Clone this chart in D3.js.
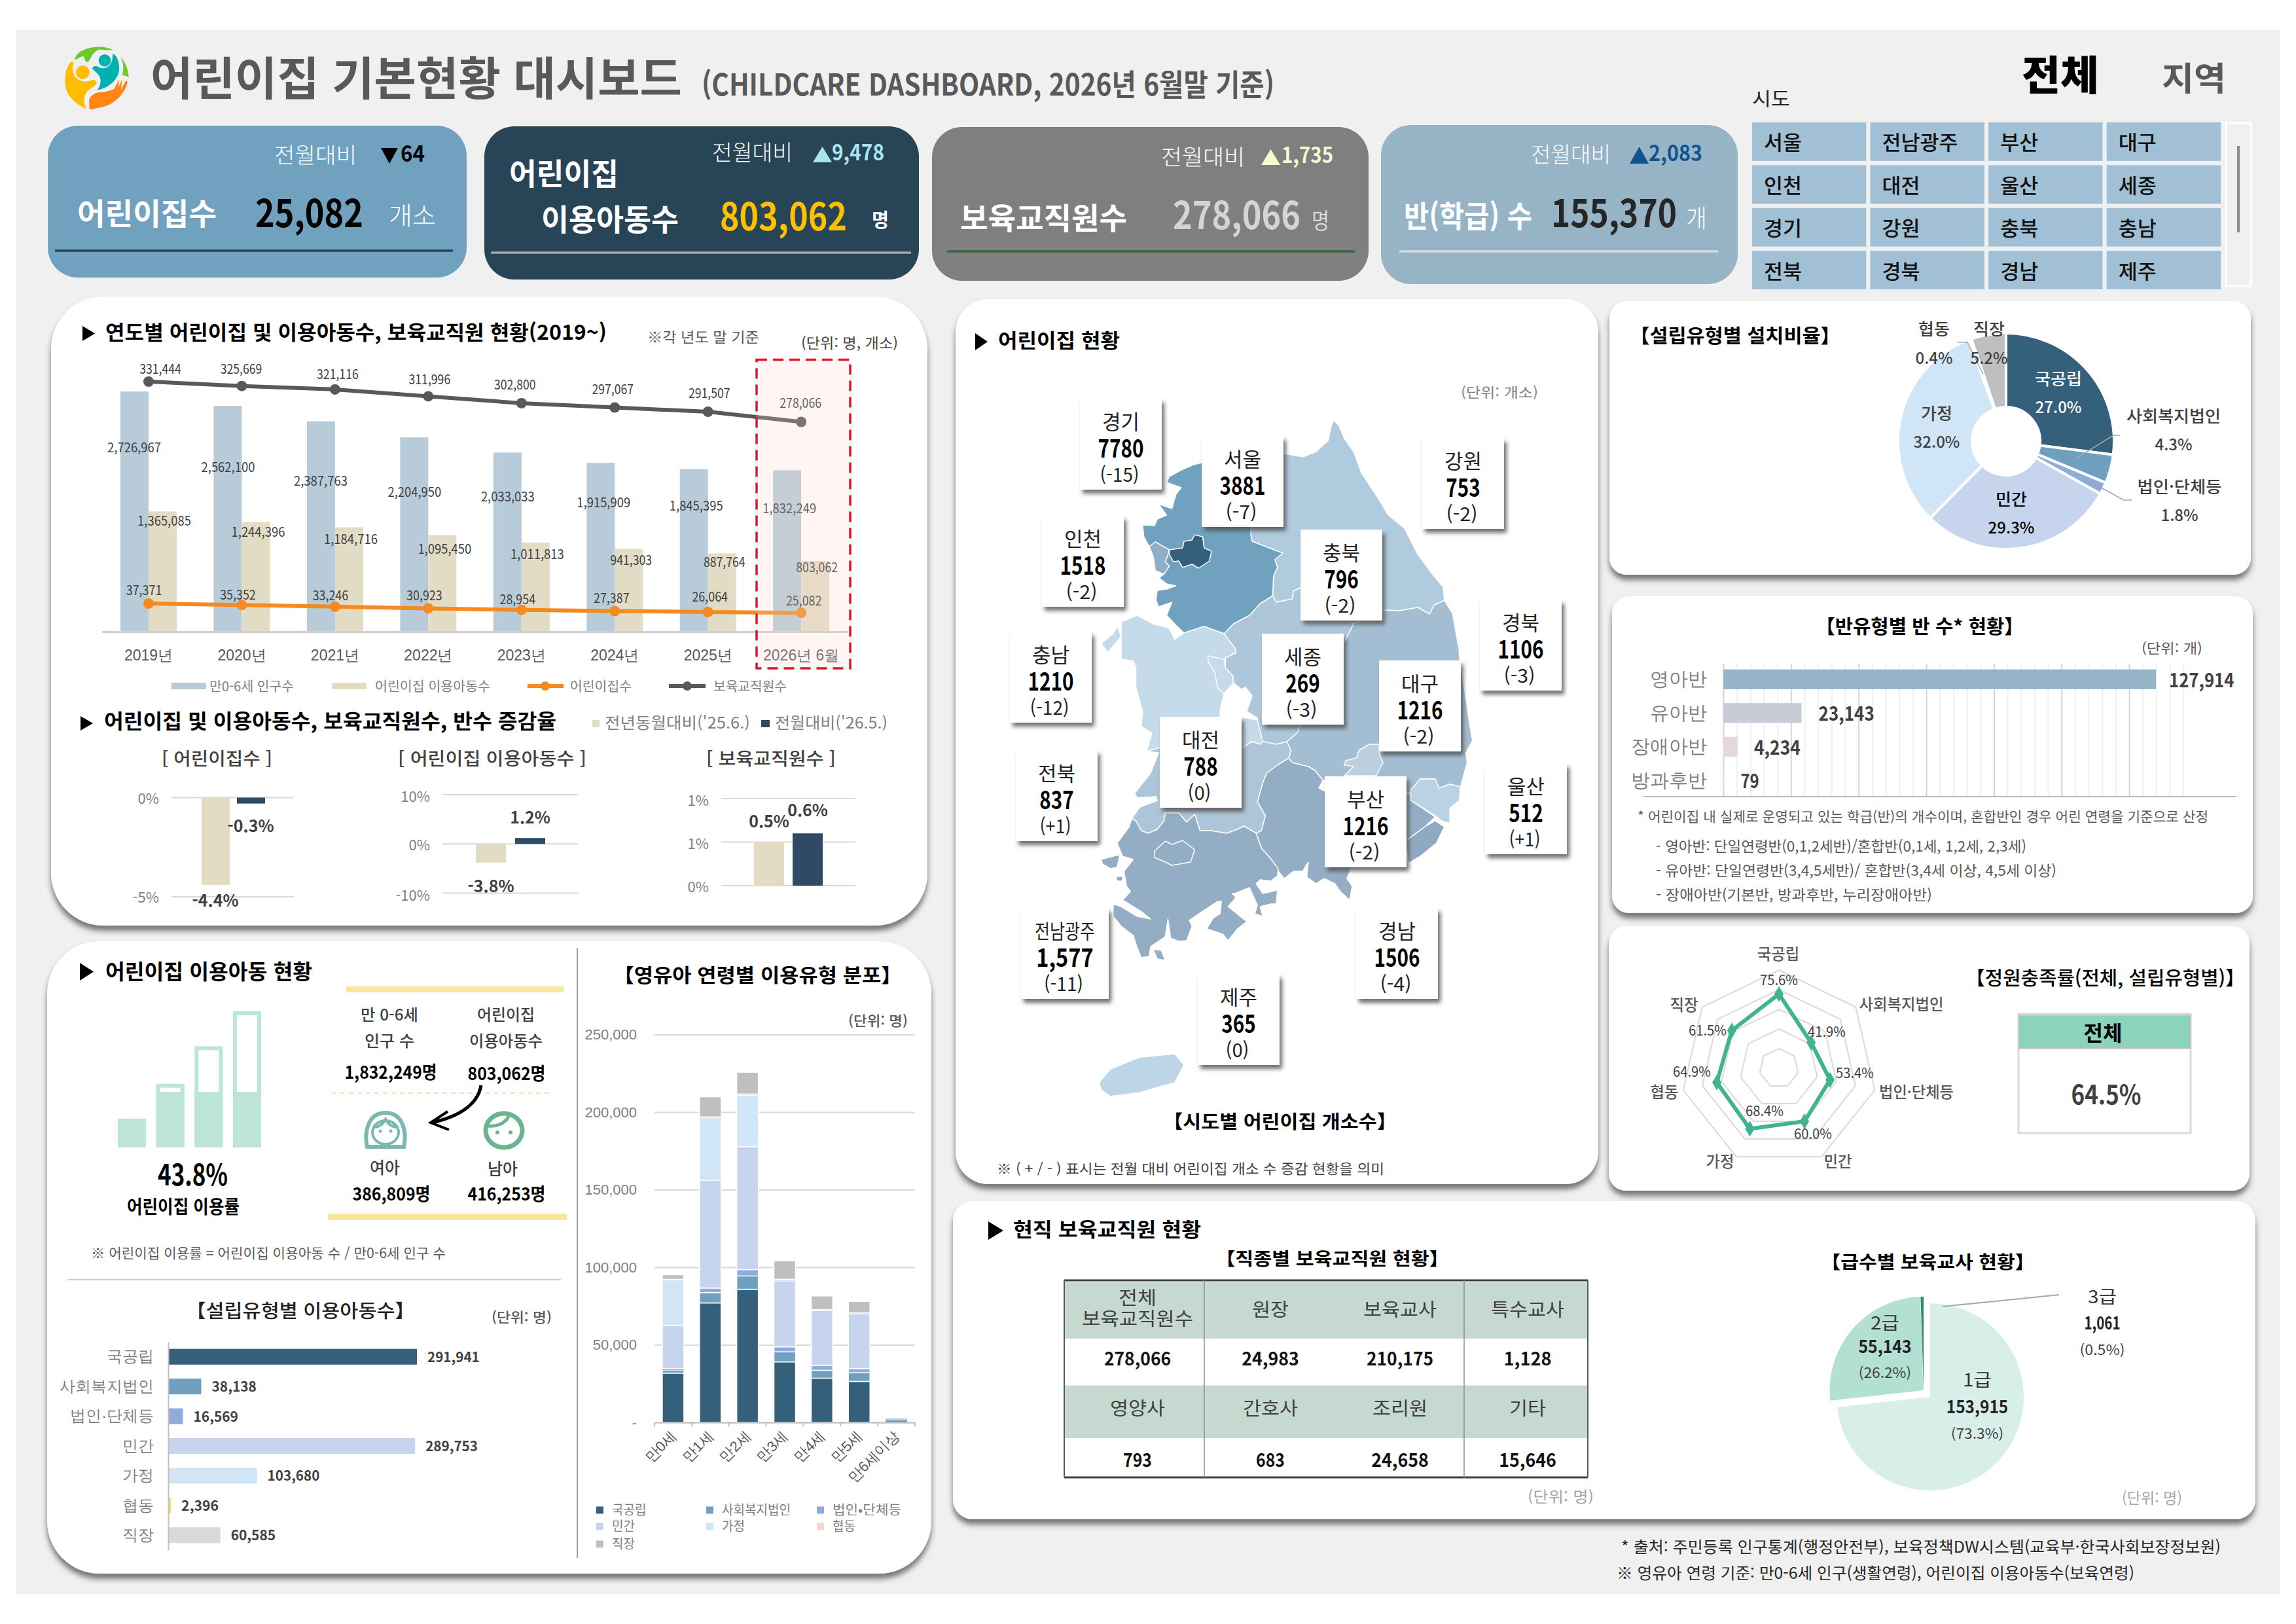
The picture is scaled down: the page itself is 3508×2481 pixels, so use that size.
<!DOCTYPE html>
<html lang="ko"><head><meta charset="utf-8">
<script src="https://cdn.jsdelivr.net/npm/d3@7"></script>
<style>html,body{margin:0;background:#fff}svg{display:block;font-family:"Noto Sans CJK KR","Noto Sans",sans-serif}</style>
</head><body><script>
// ---------- data ----------
const years=['2019년','2020년','2021년','2022년','2023년','2024년','2025년','2026년 6월'];
const popValues=[2726967,2562100,2387763,2204950,2033033,1915909,1845395,1832249];
const childValues=[1365085,1244396,1184716,1095450,1011813,941303,887764,803062];
const centerValues=[37371,35352,33246,30923,28954,27387,26064,25082];
const teacherValues=[331444,325669,321116,311996,302800,297067,291507,278066];
const typeNames=['국공립','사회복지법인','법인·단체등','민간','가정','협동','직장'];
const typeChildren=[291941,38138,16569,289753,103680,2396,60585];
const typeShare=[27.0,4.3,1.8,29.3,32.0,0.4,5.2];
const fillRates=[75.6,41.9,53.4,60.0,68.4,64.9,61.5];
const ageLabels=['만0세','만1세','만2세','만3세','만4세','만5세','만6세이상'];
const ageNational=[31750,77000,85800,39000,28500,26400,200];
const ageWelfare=[1900,6700,8600,6500,5100,5600,1300];
const ageCorp=[1000,2900,4100,3200,3000,2700,100];
const agePrivate=[28000,69400,79300,42500,35500,35200,800];
const ageHome=[29300,40400,33100,500,300,300,50];
const ageCoop=[200,500,800,500,300,400,20];
const ageWork=[3000,13000,14000,12000,8800,7400,300];
const classNames=['영아반','유아반','장애아반','방과후반'];
const classValues=[127914,23143,4234,79];
const gradeNames=['1급','2급','3급'];
const gradeValues=[153915,55143,1061];
const gradeShare=[73.3,26.2,0.5];
const yoyCenter=[-4.4,-0.3], yoyChild=[-3.8,1.2], yoyStaff=[0.5,0.6];
const sidoGrid=['서울','전남광주','부산','대구','인천','대전','울산','세종','경기','강원','충북','충남','전북','경북','경남','제주'];
const mapNames=['경기','서울','강원','인천','충북','경북','충남','세종','대구','대전','전북','울산','부산','전남광주','경남','제주'];
const mapCounts=['7780','3881','753','1518','796','1106','1210','269','1216','788','837','512','1216','1,577','1506','365'];
const mapDeltas=['(-15)','(-7)','(-2)','(-2)','(-2)','(-3)','(-12)','(-3)','(-2)','(0)','(+1)','(+1)','(-2)','(-11)','(-4)','(0)'];
const staffNames1=['전체\n보육교직원수','원장','보육교사','특수교사'];
const staffValues1=[278066,24983,210175,1128];
const staffNames2=['영양사','간호사','조리원','기타'];
const staffValues2=[793,683,24658,15646];
// map outlines (map units: x 0-1568, y 620-1700)
const mapGangwon=[[[925,642],[945,650],[965,670],[1000,690],[1030,723],[1090,760],[1130,787],[1190,807],[1240,847],[1295,877],[1335,897],[1340,917],[1300,925],[1285,938],[1240,928],[1170,933],[1120,932],[1000,953],[800,898],[775,903],[770,915],[710,920],[697,910],[700,880],[715,867],[705,855],[735,845],[690,838],[620,827],[615,817],[620,760],[740,693],[810,698],[860,690],[905,673],[915,653]]];
const mapGyeonggi=[[[430,707],[400,710],[355,718],[310,728],[300,737],[355,745],[335,755],[320,777],[270,770],[300,787],[265,793],[255,803],[210,802],[215,820],[235,835],[258,828],[310,840],[305,847],[295,858],[310,865],[290,877],[272,883],[300,892],[335,895],[300,900],[265,902],[260,917],[270,927],[320,920],[300,940],[330,953],[365,967],[440,957],[515,968],[550,953],[610,940],[650,922],[697,910],[700,880],[715,867],[705,855],[735,845],[690,838],[620,827],[615,817],[620,760],[740,693],[600,687]]];
const mapSeoul=[[[310,840],[360,837],[365,827],[395,825],[405,817],[435,820],[440,837],[468,842],[460,857],[420,868],[395,862],[360,867],[345,857],[325,858],[310,847]]];
const mapIncheon=[[[235,835],[258,828],[310,840],[305,847],[295,858],[310,865],[290,877],[258,872],[250,850]]];
const mapChungnam=[[[130,950],[190,940],[250,953],[310,960],[330,977],[365,967],[440,957],[515,968],[555,990],[560,997],[520,1005],[520,1020],[548,1033],[550,1043],[515,1060],[500,1085],[500,1097],[600,1097],[640,1100],[660,1133],[650,1137],[620,1133],[585,1142],[275,1142],[225,1148],[245,1120],[205,1110],[210,1087],[185,1050],[185,1020],[175,1010],[130,1007],[130,980]],[[55,983],[100,968],[115,957],[130,972],[80,997]]];
const mapSejong=[[[455,1002],[515,1007],[520,1020],[548,1033],[550,1043],[515,1060],[490,1050],[480,1027],[455,1010]]];
const mapChungbuk=[[[515,968],[555,990],[560,997],[520,1005],[520,1020],[548,1033],[550,1043],[580,1053],[595,1050],[620,1063],[600,1087],[640,1097],[640,1115],[660,1133],[710,1137],[750,1133],[790,1119],[800,1108],[975,973],[1000,953],[800,898],[775,903],[770,915],[710,920],[697,910],[650,922],[610,940],[550,953]]];
const mapGyeongbuk=[[[1340,917],[1370,937],[1395,993],[1395,1000],[1440,1121],[1445,1131],[1420,1150],[1425,1165],[1400,1202],[1360,1198],[1320,1204],[1305,1190],[1250,1190],[1210,1212],[885,1192],[855,1177],[830,1171],[770,1165],[757,1158],[765,1146],[750,1133],[790,1119],[800,1108],[975,973],[1000,953],[1120,932],[1170,933],[1240,928],[1285,938],[1300,925]]];
const mapDaegu=[[[1095,1137],[1060,1137],[1020,1146],[1010,1158],[970,1162],[965,1169],[1000,1171],[965,1185],[1085,1185],[1110,1165],[1095,1150]]];
const mapGyeongnam=[[[757,1158],[770,1165],[830,1171],[855,1177],[885,1192],[870,1204],[890,1208],[1210,1212],[1215,1223],[1305,1248],[1270,1262],[1220,1277],[1195,1285],[1200,1319],[990,1327],[975,1342],[995,1354],[985,1375],[950,1362],[930,1350],[890,1342],[860,1350],[825,1340],[830,1317],[810,1331],[775,1331],[740,1342],[718,1331],[690,1312],[655,1296],[635,1273],[655,1269],[670,1246],[640,1225],[660,1196],[675,1181],[715,1169]]];
const mapJeonbuk=[[[225,1148],[275,1142],[585,1142],[620,1133],[650,1137],[660,1133],[710,1137],[750,1133],[765,1146],[757,1158],[715,1169],[675,1181],[660,1196],[640,1225],[670,1246],[655,1269],[635,1273],[590,1262],[565,1267],[525,1273],[465,1269],[425,1269],[405,1244],[375,1256],[345,1242],[295,1242],[290,1254],[265,1267],[230,1273],[205,1269],[185,1254],[170,1250],[200,1233],[265,1223],[260,1217],[190,1219],[180,1212],[240,1181],[270,1150]]];
const mapJeonnam=[[[170,1250],[185,1254],[205,1269],[230,1273],[265,1267],[290,1254],[295,1242],[345,1242],[375,1256],[405,1244],[425,1269],[465,1269],[525,1273],[565,1267],[590,1262],[635,1273],[655,1296],[690,1312],[718,1327],[715,1338],[690,1346],[650,1344],[635,1350],[660,1365],[715,1360],[710,1381],[690,1381],[650,1385],[660,1400],[630,1396],[640,1383],[610,1356],[555,1365],[545,1365],[560,1371],[530,1385],[600,1408],[565,1419],[530,1437],[510,1427],[450,1419],[475,1402],[500,1396],[505,1377],[490,1377],[420,1396],[385,1406],[395,1415],[375,1437],[345,1438],[315,1433],[305,1404],[295,1431],[240,1446],[235,1461],[205,1463],[190,1448],[175,1429],[130,1415],[100,1400],[100,1381],[130,1385],[190,1400],[240,1404],[210,1394],[175,1385],[135,1375],[165,1362],[150,1354],[140,1331],[175,1313],[135,1308],[115,1288],[160,1263]],[[55,1313],[100,1308],[125,1306],[115,1325],[90,1327],[60,1320]],[[110,1340],[135,1338],[135,1346],[115,1346]],[[250,1450],[280,1452],[295,1467],[265,1465]]];
const mapGwangju=[[[255,1300],[295,1285],[320,1290],[360,1284],[405,1298],[390,1317],[320,1322],[295,1317],[255,1310]]];
const mapUlsan=[[[1215,1206],[1250,1190],[1305,1190],[1320,1204],[1360,1198],[1400,1202],[1395,1223],[1360,1235],[1360,1258],[1330,1254],[1305,1246],[1215,1223]]];
const mapBusan=[[[1195,1285],[1270,1262],[1305,1254],[1340,1263],[1310,1288],[1250,1308],[1205,1319]]];
const mapJeju=[[[47,1654],[90,1633],[200,1615],[330,1610],[365,1627],[330,1654],[200,1669],[90,1675],[55,1665]]];

// ---------- setup ----------
const svg=d3.select('body').append('svg').attr('width',3508).attr('height',2481);
const defs=svg.append('defs');
function shadow(id,dx,dy,sd,col,op){const f=defs.append('filter').attr('id',id).attr('x','-10%').attr('y','-10%').attr('width','120%').attr('height','125%');
  f.append('feDropShadow').attr('dx',dx).attr('dy',dy).attr('stdDeviation',sd).attr('flood-color',col).attr('flood-opacity',op);}
shadow('ps',0,8,4,'#4d4d4d',.75); shadow('bs',4,6,3,'#4d4d4d',.8);
const fmt=d3.format(',');
function T(x,y,s,o={}){const t=svg.append('text').attr('x',x).attr('y',y).text(s).attr('font-size',o.s||24).attr('font-weight',o.b||400).attr('fill',o.c||'#404040').attr('text-anchor',o.a||'start');
  if(o.w)t.attr('textLength',o.w).attr('lengthAdjust','spacingAndGlyphs');return t;}
// bracketed titles: the full-width brackets carry blank side bearings
function B(x,y,s,o){return T(x-14,y,s,Object.assign({},o,{w:o.w+28}));}
function R(x1,y1,x2,y2,fill,o={}){const r=svg.append('rect').attr('x',x1).attr('y',y1).attr('width',x2-x1).attr('height',y2-y1).attr('fill',fill);
  if(o.rx)r.attr('rx',o.rx).attr('ry',o.ry||o.rx);if(o.f)r.attr('filter',`url(#${o.f})`);if(o.st)r.attr('stroke',o.st).attr('stroke-width',o.sw||1);return r;}
function L(x1,y1,x2,y2,c,w=2,dash){const l=svg.append('line').attr('x1',x1).attr('y1',y1).attr('x2',x2).attr('y2',y2).attr('stroke',c).attr('stroke-width',w);if(dash)l.attr('stroke-dasharray',dash);return l;}
function P(pts,c,w=2){svg.append('path').attr('d',d3.line()(pts)).attr('fill','none').attr('stroke',c).attr('stroke-width',w);}
function tri(x1,y1,x2,y2,c,dir){const p=dir==='r'?[[x1,y1],[x2,(y1+y2)/2],[x1,y2]]:dir==='d'?[[x1,y1],[x2,y1],[(x1+x2)/2,y2]]:[[x1,y2],[x2,y2],[(x1+x2)/2,y1]];
  svg.append('path').attr('d',d3.line()(p)+'Z').attr('fill',c);}
const palette=['#35607c','#6fa0bf','#8faadc','#c6d5ed','#d0e5f6','#fbd5c9','#bfbfbf'];

// page
R(24,46,3484,2435,'#f0f0f0');

// logo
const logo=svg.append('g').attr('transform','translate(85,55) scale(.3333)');
[['#6fc92a','M88,110 C90,60 200,30 265,65 L200,62 C170,70 165,100 150,118 C135,125 130,95 128,92 C110,95 100,105 88,110Z'],
 ['#6fc92a','M298,97 C320,120 335,160 335,188 L305,178 C315,150 310,120 298,97Z'],
 ['#ffbc00','M72,118 C45,140 35,200 50,250 C65,290 105,320 140,333 C130,310 125,280 140,260 C155,240 175,235 188,218 C188,205 175,195 160,205 C130,215 100,205 85,180 C75,160 80,140 82,120Z'],
 ['#00b1b1','M262,80 C285,90 295,130 290,165 C280,205 240,240 190,248 C210,225 212,190 190,170 L168,150 C170,135 190,135 200,145 C225,155 255,140 260,105Z'],
 ['#ff8616','M155,335 L153,295 C160,265 195,255 220,258 L268,244 L290,198 L288,235 L305,198 L300,245 L322,205 L330,210 C320,260 270,320 200,328 C185,330 170,340 155,335Z']
].forEach(d=>logo.append('path').attr('d',d[1]).attr('fill',d[0]));
logo.append('circle').attr('cx',124).attr('cy',166).attr('r',31).attr('fill','#ffbc00');
logo.append('circle').attr('cx',225).attr('cy',112).attr('r',28).attr('fill','#00b1b1');

// header
T(230,146,'어린이집 기본현황 대시보드',{s:70,b:700,c:'#595959',w:812});
T(1072,146,'(CHILDCARE DASHBOARD, 2026년 6월말 기준)',{s:46,b:700,c:'#595959',w:875});
T(3089,138,'전체',{s:62,b:900,c:'#000',w:118});
T(3303,138,'지역',{s:50,b:700,c:'#595959',w:98});
T(2677,162,'시도',{s:29,c:'#222',w:58});

// KPI cards
R(73,192,713,424,'#70a2c0',{rx:46,ry:46});
T(419,249,'전월대비',{s:33,c:'#fff',w:126,b:300});tri(582,226,608,250,'#000','d');T(612,247,'64',{s:33,b:700,c:'#000',w:37});
T(118,343,'어린이집수',{s:46,c:'#fff',w:213,b:700});T(390,347,'25,082',{s:58,b:700,c:'#000',w:165});T(594,343,'개소',{s:38,c:'#fff',w:72,b:300});
L(84,383,692,383,'#2a4458',3.5);
R(740,193,1404,427,'#284457',{rx:46});
T(1088,245,'전월대비',{s:33,c:'#fff',w:123,b:300});tri(1242,224,1271,248,'#a8e6ef','u');T(1271,245,'9,478',{s:33,b:700,c:'#a8e6ef',w:80});
T(778,282,'어린이집',{s:46,c:'#fff',w:167,b:700});T(827,352,'이용아동수',{s:46,c:'#fff',w:210,b:700});
T(1100,352,'803,062',{s:58,b:700,c:'#ffc000',w:194});T(1332,347,'명',{s:30,b:700,c:'#fff',w:26});
L(750,386,1392,386,'#a6a6a6',3.5);
R(1424,194,2091,429,'#7f7f7f',{rx:46});
T(1774,252,'전월대비',{s:33,c:'#fff',w:128,b:300});tri(1927,228,1956,252,'#f8f8cf','u');T(1958,249,'1,735',{s:33,b:700,c:'#f8f8cf',w:79});
T(1467,350,'보육교직원수',{s:46,c:'#fff',w:255,b:700});T(1792,350,'278,066',{s:58,b:700,c:'#d4d4d4',w:195});T(2004,350,'명',{s:34,c:'#d9d9d9',w:27});
L(1447,384,2070,384,'#2f6a42',3.5);
R(2110,191,2655,434,'#96b4c6',{rx:46});
T(2339,248,'전월대비',{s:33,c:'#fff',w:122,b:300});tri(2490,224,2519,250,'#0f5490','u');T(2519,246,'2,083',{s:33,b:700,c:'#0f5490',w:82});
T(2145,347,'반(학급) 수',{s:46,c:'#fff',w:196,b:700});T(2370,347,'155,370',{s:58,b:700,c:'#262626',w:192});T(2576,347,'개',{s:38,c:'#fff',w:32,b:300});
L(2138,384,2625,384,'#d9d9d9',3.5);

// slicer
const slX=d3.scaleBand().domain(d3.range(4)).range([2677,3393]).paddingInner(.035);
const slY=d3.scaleBand().domain(d3.range(4)).range([187,442]).paddingInner(.1);
sidoGrid.forEach((n,i)=>{const c=i%4,r=Math.floor(i/4);R(slX(c),slY(r),slX(c)+slX.bandwidth(),slY(r)+slY.bandwidth(),'#a1bfd5');
  T(slX(c)+18,slY(r)+slY.bandwidth()/2+13,n,{s:31,b:500,c:'#111',w:n.length*29});});
R(3401,188,3439,437,'#f0f0f0',{st:'#fff',sw:3});L(3420,223,3420,355,'#8c8c8c',4);

// panels
[[78,453,1417,1414,80],[72,1438,1423,2404,80],[1460,457,2442,1809,50],[2459,460,3439,878,26],[2463,911,3442,1395,26],[2458,1415,3437,1819,26],[1456,1835,3446,2321,30]]
 .forEach(p=>R(p[0],p[1],p[2],p[3],'#fff',{rx:p[4],f:'ps'}));

// ---------- Panel A: combo ----------
tri(126,498,145,521,'#000','r');
T(161,519,'연도별 어린이집 및 이용아동수, 보육교직원 현황(2019~)',{s:31,b:700,c:'#000',w:766});
T(989,523,'※각 년도 말 기준',{s:22,c:'#595959',w:171});
T(1224,532,'(단위: 명, 개소)',{s:22,c:'#404040',w:148});
const xYear=d3.scaleBand().domain(years).range([155.8,1295.4]);
const cx=y=>xYear(y)+xYear.bandwidth()/2;
const yPop=d3.scaleLinear().domain([0,d3.max(popValues)]).range([965,598]);
const yTeach=d3.scaleLinear().domain([0,d3.max(teacherValues)]).range([965,583]);
const yCenter=d3.scaleLinear().domain([0,d3.max(centerValues)]).range([965,922]);
svg.selectAll('.pop').data(popValues).join('rect').attr('x',(d,i)=>cx(years[i])-43).attr('width',43).attr('y',d=>yPop(d)).attr('height',d=>965-yPop(d)).attr('fill','#b7ccd8');
svg.selectAll('.chd').data(childValues).join('rect').attr('x',(d,i)=>cx(years[i])).attr('width',43).attr('y',d=>yPop(d)).attr('height',d=>965-yPop(d)).attr('fill','#e3dcc4');
const axY=svg.append('g').attr('transform','translate(0,965)').call(d3.axisBottom(xYear).tickSize(0).tickPadding(28));
axY.select('.domain').attr('stroke','#d0d0d0').attr('stroke-width',3);
axY.selectAll('text').attr('font-size',23).attr('font-family','inherit').attr('fill','#595959');
function lineSeries(vals,sc,col){
  svg.append('path').attr('d',d3.line().x((d,i)=>cx(years[i])).y(d=>sc(d))(vals)).attr('fill','none').attr('stroke',col).attr('stroke-width',6);
  vals.forEach((v,i)=>svg.append('circle').attr('cx',cx(years[i])).attr('cy',sc(v)).attr('r',8).attr('fill',col));}
lineSeries(teacherValues,yTeach,'#595959');
lineSeries(centerValues,yCenter,'#f58a1f');
const lblPopOff=[[-22,93],[-21,101],[-22,98],[-21,91],[-21,75],[-17,68],[-18,63],[-18,66]];
const lblChdOff=[[24,22],[25,22.5],[24,25],[25,28],[24,25],[25,25],[25,20.5],[24,17]];
const lblCtrOff=[[-7,-13],[-6,-8],[-7,-10],[-6,-12],[-6,-9],[-5,-12.5],[3,-16],[4,-11]];
const lblTchOff=[[18,-12],[-1,-19],[4,-16],[2,-18.5],[-10,-21],[-3,-20.6],[2,-21],[-1,-21.5]];
function seriesLabels(vals,sc,off){vals.forEach((v,i)=>T(cx(years[i])+off[i][0],sc(v)+off[i][1],fmt(v),{s:20,a:'middle',c:'#404040',w:fmt(v).length*9.1}));}
seriesLabels(popValues,yPop,lblPopOff);seriesLabels(childValues,yPop,lblChdOff);seriesLabels(centerValues,yCenter,lblCtrOff);seriesLabels(teacherValues,yTeach,lblTchOff);
R(1156,549.5,1299,1021,'rgba(255,215,205,.22)').attr('stroke','#e8112a').attr('stroke-width',3.5).attr('stroke-dasharray','16 9');
R(262,1043,315,1053,'#b7ccd8');T(320,1056,'만0-6세 인구수',{s:20,c:'#7f7f7f',w:129});
R(507,1043,560,1053,'#e3dcc4');T(573,1056,'어린이집 이용아동수',{s:20,c:'#7f7f7f',w:176});
L(806,1048,861,1048,'#f58a1f',6);svg.append('circle').attr('cx',833).attr('cy',1048).attr('r',7).attr('fill','#f58a1f');T(871,1056,'어린이집수',{s:20,c:'#7f7f7f',w:94});
L(1022,1048,1078,1048,'#595959',6);svg.append('circle').attr('cx',1050).attr('cy',1048).attr('r',7).attr('fill','#595959');T(1090,1056,'보육교직원수',{s:20,c:'#7f7f7f',w:112});

tri(123,1094,142,1116,'#000','r');
T(159,1113,'어린이집 및 이용아동수, 보육교직원수, 반수 증감율',{s:31,b:700,c:'#000',w:691});
R(905,1100,916,1111,'#e3dcc4');T(924,1113,"전년동월대비('25.6.)",{s:24,c:'#7f7f7f',w:222});
R(1163,1100,1176,1111,'#2f4a66');T(1184,1113,"전월대비('26.5.)",{s:24,c:'#7f7f7f',w:172});
T(247,1169,'[ 어린이집수 ]',{s:27,b:500,c:'#404040',w:169});
T(608,1169,'[ 어린이집 이용아동수 ]',{s:27,b:500,c:'#404040',w:288});
T(1079,1169,'[ 보육교직원수 ]',{s:27,b:500,c:'#404040',w:198});
function mini(c){const y=d3.scaleLinear().domain(c.dom).range(c.rng);
  c.ticks.forEach(t=>{L(c.x0,y(t.v),c.x1,y(t.v),'#d9d9d9',2);T(c.tx,y(t.v)+t.dy,t.l,{s:22,a:'end',c:'#7f7f7f'});});
  c.vals.forEach((v,i)=>{const a=Math.min(y(v),y(c.base)),b=Math.max(y(v),y(c.base));R(c.bx[i],a,c.bx[i]+c.bw,b,i?'#2f4a66':'#e3dcc4');
    T(c.lx[i],y(v)+c.ly[i],v.toFixed(1)+'%',{s:25,b:600,a:'middle',c:'#404040'});});}
mini({dom:[-5,0],rng:[1370,1218.5],base:0,x0:262,x1:449,tx:243,ticks:[{v:0,l:'0%',dy:9},{v:-5,l:'-5%',dy:9}],vals:yoyCenter,bx:[308,362],bw:43,lx:[329,383],ly:[33,43.5]});
mini({dom:[-10,10],rng:[1364.5,1214],base:0,x0:676,x1:883,tx:657,ticks:[{v:10,l:'10%',dy:11},{v:0,l:'0%',dy:10},{v:-10,l:'-10%',dy:11}],vals:yoyChild,bx:[727,787],bw:46,lx:[750,810],ly:[45,-22]});
mini({dom:[0,1],rng:[1353,1220],base:0,x0:1102,x1:1307,tx:1083,ticks:[{v:1,l:'1%',dy:11},{v:.5,l:'1%',dy:10},{v:0,l:'0%',dy:10}],vals:yoyStaff,bx:[1152,1211],bw:46,lx:[1175,1234],ly:[-23,-26]});

// ---------- Panel B ----------
tri(122,1471,143,1498,'#000','r');
T(161,1496,'어린이집 이용아동 현황',{s:32,b:700,c:'#000',w:316});
R(529,1507,861,1516,'#f7e79b');R(501,1854,866,1864,'#f7e79b');
const stepOuter=[20,46,74,100], stepFill=[20,40,40,40];
const yStep=d3.scaleLinear().domain([0,100]).range([1750,1545]);
const xStep=d3.scaleBand().domain(d3.range(4)).range([180,399]).paddingInner(.265);
stepOuter.forEach((v,i)=>{const x=xStep(i),w=xStep.bandwidth();
  R(x+3,yStep(v)+3,x+w-3,1750,'#fff',{st:'#bde4d8',sw:6});R(x,yStep(stepFill[i]),x+w,1750,'#bde4d8');});
T(241,1811,'43.8%',{s:44,b:700,c:'#000',w:107});T(194,1854,'어린이집 이용률',{s:28,b:700,c:'#000',w:172});
T(139,1922,'※ 어린이집 이용률 = 어린이집 이용아동 수 / 만0-6세 인구 수',{s:21,c:'#595959',w:542});
L(103,1955,857,1955,'#bfbfbf',1.5);L(882,1448,882,2380,'#7f7f7f',1.5);
T(595,1559,'만 0-6세',{s:24,b:500,a:'middle',w:88});T(773,1559,'어린이집',{s:24,b:500,a:'middle',w:88});
T(595,1599,'인구 수',{s:24,b:500,a:'middle',w:76});T(773,1599,'이용아동수',{s:24,b:500,a:'middle',w:112});
T(597,1648,'1,832,249명',{s:27,b:700,a:'middle',c:'#000',w:141});T(774,1650,'803,062명',{s:27,b:700,a:'middle',c:'#000',w:119});
L(507,1670,845,1670,'#f7e79b',2,'7 6');
svg.append('path').attr('d','M735,1658 C730,1688 700,1706 660,1715').attr('fill','none').attr('stroke','#000').attr('stroke-width',5);
svg.append('path').attr('d','M684,1698 L658,1715 L686,1726').attr('fill','none').attr('stroke','#000').attr('stroke-width',4);
// child icons
svg.append('path').attr('d','M561,1752 C556,1730 562,1700 589,1700 C616,1700 622,1730 617,1752Z').attr('fill','#fff').attr('stroke','#7ab8b0').attr('stroke-width',6);
svg.append('ellipse').attr('cx',589).attr('cy',1730).attr('rx',20).attr('ry',18).attr('fill','#fff').attr('stroke','#7ab8b0').attr('stroke-width',4);
svg.append('path').attr('d','M570,1722 C580,1722 586,1716 589,1710 C592,1716 598,1722 608,1722').attr('fill','none').attr('stroke','#7ab8b0').attr('stroke-width',4);
[581,597].forEach(x=>svg.append('circle').attr('cx',x).attr('cy',1728).attr('r',2.5).attr('fill','#7ab8b0'));
svg.append('ellipse').attr('cx',770).attr('cy',1727).attr('rx',28).attr('ry',26).attr('fill','#fff').attr('stroke','#69b58f').attr('stroke-width',7);
svg.append('path').attr('d','M744,1720 C765,1722 775,1712 778,1703').attr('fill','none').attr('stroke','#69b58f').attr('stroke-width',5);
[760,780].forEach(x=>svg.append('circle').attr('cx',x).attr('cy',1730).attr('r',3).attr('fill','#69b58f'));
T(588,1793,'여아',{s:25,b:500,a:'middle'});T(768,1795,'남아',{s:25,b:500,a:'middle'});
T(598,1834,'386,809명',{s:27,b:700,a:'middle',c:'#000',w:119});T(774,1834,'416,253명',{s:27,b:700,a:'middle',c:'#000',w:119});
B(298,2013,'【설립유형별 이용아동수】',{s:28,b:500,c:'#222',w:322});
T(751,2020,'(단위: 명)',{s:21,b:500,c:'#595959',w:92});
const yType=d3.scaleBand().domain(typeNames).range([2050,2368]).paddingInner(.47).paddingOuter(.235);
const xType=d3.scaleLinear().domain([0,d3.max(typeChildren)]).range([258,637]);
const typePal=['#35607c','#6fa0bf','#8faadc','#c6d5ed','#d0e5f6','#ffd966','#d9d9d9'];
svg.selectAll('.tb').data(typeChildren).join('rect').attr('x',258).attr('y',(d,i)=>yType(typeNames[i])).attr('width',d=>xType(d)-258).attr('height',yType.bandwidth()).attr('fill',(d,i)=>typePal[i]);
typeChildren.forEach((v,i)=>T(xType(v)+16,yType(typeNames[i])+yType.bandwidth()/2+8,fmt(v),{s:21,b:700,c:'#404040',w:fmt(v).length*11.4}));
const ayt=svg.append('g').attr('transform','translate(257,0)').call(d3.axisLeft(yType).tickSize(0).tickPadding(22));
ayt.select('.domain').attr('stroke','#bfbfbf').attr('stroke-width',2);
ayt.selectAll('text').attr('font-size',24).attr('font-family','inherit').attr('fill','#7f7f7f');

// stack
B(951,1501,'【영유아 연령별 이용유형 분포】',{s:29,b:700,c:'#000',w:413});
T(1296,1567,'(단위: 명)',{s:21,b:500,c:'#595959',w:91});
const xAge=d3.scaleBand().domain(ageLabels).range([1000,1398]);
const yAge=d3.scaleLinear().domain([0,250000]).range([2173,1580.5]);
const agy=svg.append('g').attr('transform','translate(1000,0)').call(d3.axisLeft(yAge).tickValues([0,50000,100000,150000,200000,250000]).tickFormat(d=>d?fmt(d):'-').tickSize(-398).tickPadding(27));
agy.select('.domain').remove();agy.selectAll('line').attr('stroke','#d9d9d9').attr('stroke-width',2);
agy.selectAll('text').attr('font-size',22).attr('font-family','inherit').attr('fill','#7f7f7f');
const ageRows=ageLabels.map((a,i)=>({a,n:ageNational[i],w:ageWelfare[i],c:ageCorp[i],p:agePrivate[i],h:ageHome[i],o:ageCoop[i],k:ageWork[i]}));
const stackKeys=['n','w','c','p','h','o','k'];
d3.stack().keys(stackKeys)(ageRows).forEach((s,si)=>{
  svg.append('g').selectAll('rect').data(s).join('rect').attr('x',d=>xAge(d.data.a)+xAge.bandwidth()/2-16.5).attr('width',33)
    .attr('y',d=>yAge(d[1])).attr('height',d=>yAge(d[0])-yAge(d[1])).attr('fill',palette[si])
    .attr('stroke',d=>yAge(d[0])-yAge(d[1])>4?'#fff':'none').attr('stroke-width',1.5);});
const agx=svg.append('g').attr('transform','translate(0,2173)').call(d3.axisBottom(xAge).tickSize(0).tickPadding(0));
agx.select('.domain').attr('stroke','#bfbfbf').attr('stroke-width',2);
agx.selectAll('text').attr('font-size',22).attr('font-family','inherit').attr('fill','#595959').attr('text-anchor','end').attr('dy',0).attr('y',0)
  .attr('transform','translate(6,22) rotate(-45)');
xAge.domain().concat(['_']).forEach((d,i)=>{const x=1000+i*xAge.step();L(x,2173,x,2179,'#bfbfbf',2);});
const legX=d3.scaleOrdinal().domain([0,1,2]).range([911,1079,1248]);
const legY=d3.scaleOrdinal().domain([0,1,2]).range([2307,2332,2359]);
typeNames.forEach((n,i)=>{const c=i%3,r=Math.floor(i/3),x=legX(c),y=legY(r);R(x,y-5.5,x+11,y+5.5,palette[i]);
  T(x+24,y+7,n==='법인·단체등'?'법인•단체등':n,{s:20,c:'#7f7f7f',w:n.length*17.5});});

// ---------- Map ----------
tri(1490,509,1509,535,'#000','r');
T(1525,531,'어린이집 현황',{s:30,b:700,c:'#000',w:186});
T(2232,607,'(단위: 개소)',{s:21,c:'#7f7f7f',w:118});
const mX=d3.scaleLinear().domain([0,1568]).range([1660,2300]);
const mY=d3.scaleLinear().domain([620,1700]).range([620,1700]);
const ring=d3.line().x(d=>mX(d[0])).y(d=>mY(d[1]));
[[mapGangwon,'#b0cade'],[mapGyeongbuk,'#a3bdd2'],[mapChungbuk,'#aec6da'],[mapGyeonggi,'#70a2c0'],[mapIncheon,'#90aec5'],[mapSeoul,'#365f7e'],[mapChungnam,'#c5dbea'],[mapSejong,'#c5dbea'],[mapJeonbuk,'#adc5d9'],[mapGyeongnam,'#93aec4'],[mapJeonnam,'#93aec4'],[mapGwangju,'#93aec4'],[mapDaegu,'#bcd0e0'],[mapUlsan,'#b9d3e5'],[mapBusan,'#8fa9c2'],[mapJeju,'#bcd6e8']]
 .forEach(([rings,col])=>svg.append('path').attr('d',rings.map(r=>ring(r)+'Z').join(' ')).attr('fill',col).attr('stroke','#fff').attr('stroke-width',1.5).attr('stroke-linejoin','round'));
const boxLeft=[1650,1836,2173,1592,1987,2261,1543,1928,2107,1772,1552,2269,2024,1560,2072,1830];
const boxTop=[609,666,669,788,809,916,965,968,1009,1095,1146,1166,1186,1387,1387,1488];
mapNames.forEach((n,i)=>{const wide=n.length>2,w=wide?134:125,x=boxLeft[i],y=boxTop[i],c=x+w/2;
  R(x,y,x+w,y+139,'#fff',{f:'bs'});
  T(c,y+47,n,{s:31,a:'middle',c:'#222',w:wide?92:57});
  T(c,y+90,mapCounts[i],{s:38,b:700,a:'middle',c:'#000',w:mapCounts[i].length*17.5});
  T(c-2,y+127,mapDeltas[i],{s:29,a:'middle',c:'#222',w:mapDeltas[i].length*12});});
B(1791,1724,'【시도별 어린이집 개소수】',{s:28,b:700,c:'#000',w:329});
T(1523,1793,'※ ( + / - ) 표시는 전월 대비 어린이집 개소 수 증감 현황을 의미',{s:21,c:'#404040',w:592});

// ---------- Pie ----------
B(2504,524,'【설립유형별 설치비율】',{s:29,b:700,c:'#000',w:294});
const pieT=d3.pie().sort(null).padAngle(0)(typeShare);
const arcT=d3.arc().innerRadius(52).outerRadius(165);
svg.append('g').attr('transform','translate(3065,674)').selectAll('path').data(pieT).join('path').attr('d',arcT).attr('fill',(d,i)=>palette[i]).attr('stroke','#fff').attr('stroke-width',4);
P([[3170,701.5],[3229,665],[3239,665]],'#a6a6a6',1.5);P([[3181,729],[3245,764],[3257,764]],'#a6a6a6',1.5);P([[2991,523],[3006,523],[3030,572]],'#a6a6a6',1.5);
const pieLblCx=[3145,3321,3330,3073,2959,2955,3039];
const pieLblY=[588,645,753,772,641,512,512];
typeNames.forEach((n,i)=>{const col=i===0?'#fff':i===3?'#000':'#404040';
  T(pieLblCx[i],pieLblY[i],n,{s:25,b:500,a:'middle',c:col,w:n.length*(i===2?21.5:24)});
  T(pieLblCx[i],pieLblY[i]+(i===5||i===6?44:42.5),typeShare[i].toFixed(1)+'%',{s:24,b:500,a:'middle',c:col});});

// ---------- Classes ----------
B(2788,968,'【반유형별 반 수* 현황】',{s:29,b:700,c:'#000',w:290});
T(3272,998,'(단위: 개)',{s:21,c:'#595959',w:93});
const xClass=d3.scaleLinear().domain([0,127914]).range([2633,3294]);
const yClass=d3.scaleBand().domain(classNames).range([1012,1218]).paddingInner(.415).paddingOuter(.2075);
const gridC=svg.append('g').attr('transform','translate(0,1217)').call(d3.axisBottom(xClass).tickValues(d3.range(0,140000,4000)).tickSize(-203).tickFormat(''));
gridC.select('.domain').remove();gridC.selectAll('line').attr('stroke',d=>d%20000===0?'#d4d4d4':'#efefef').attr('stroke-width',2);
gridC.selectAll('text').remove();
L(2511,1217,3417,1217,'#a6a6a6',1.5);
const classPal=['#96b4c7','#c8ccd7','#e4d8dd','#dbe6ee'];
svg.selectAll('.cb').data(classValues).join('rect').attr('x',2633).attr('y',(d,i)=>yClass(classNames[i])).attr('width',d=>xClass(d)-2633).attr('height',yClass.bandwidth()).attr('fill',(d,i)=>classPal[i]);
classValues.forEach((v,i)=>{T(xClass(v)+(i===3?26:i===2?25:i===1?26:20),yClass(classNames[i])+yClass.bandwidth()/2+12,fmt(v),{s:29,b:700,c:'#404040',w:fmt(v).length*14.2});});
const ayc=svg.append('g').attr('transform','translate(2633,0)').call(d3.axisLeft(yClass).tickSize(0).tickPadding(25));
ayc.select('.domain').remove();ayc.selectAll('text').attr('font-size',29).attr('font-family','inherit').attr('fill','#7f7f7f');
T(2502,1255,'* 어린이집 내 실제로 운영되고 있는 학급(반)의 개수이며, 혼합반인 경우 어린 연령을 기준으로 산정',{s:21,c:'#595959',w:872});
T(2530,1301,'- 영아반: 단일연령반(0,1,2세반)/혼합반(0,1세, 1,2세, 2,3세)',{s:22,c:'#595959',w:566});
T(2530,1338,'- 유아반: 단일연령반(3,4,5세반)/ 혼합반(3,4세 이상, 4,5세 이상)',{s:22,c:'#595959',w:612});
T(2530,1375,'- 장애아반(기본반, 방과후반, 누리장애아반)',{s:22,c:'#595959',w:422});

// ---------- Radar ----------
const rR=d3.scaleLinear().domain([0,100]).range([0,150]);
const angle=d3.scalePoint().domain(d3.range(8)).range([0,2*Math.PI]);
const gRad=svg.append('g').attr('transform','translate(2718,1632)');
[20,40,60,80,100].forEach(v=>gRad.append('path').attr('d',d3.lineRadial().angle((d,i)=>angle(i)).radius(rR(v))(d3.range(7).map(()=>0))+'Z').attr('fill','none').attr('stroke','#d9d9d9').attr('stroke-width',2));
gRad.append('path').attr('d',d3.lineRadial().angle((d,i)=>angle(i)).radius(d=>rR(d))(fillRates)+'Z').attr('fill','none').attr('stroke','#40b390').attr('stroke-width',6);
fillRates.forEach((v,i)=>{const a=angle(i)-Math.PI/2;gRad.append('path').attr('d',d3.symbol(d3.symbolDiamond,170)()).attr('transform',`translate(${rR(v)*Math.cos(a)},${rR(v)*Math.sin(a)})`).attr('fill','#40b390');});
const radNameX=[2717,2905,2928,2808,2628,2543,2573], radNameY=[1466,1543,1677,1783,1783,1677,1544];
const radValX=[2718,2791,2834,2770,2696,2585,2609], radValY=[1505,1584,1647,1740,1705,1645,1582];
typeNames.forEach((n,i)=>{T(radNameX[i],radNameY[i],n,{s:24,b:500,a:'middle',c:'#595959',w:n.length*(i===2?19:21.5)});
  T(radValX[i],radValY[i],fillRates[i].toFixed(1)+'%',{s:21,a:'middle',c:'#404040',w:58});});
B(3017,1505,'【정원충족률(전체, 설립유형별)】',{s:29,b:500,c:'#000',w:399});
R(3084,1549,3347,1731,'#fff',{st:'#d9d9d9',sw:3});R(3084,1551,3347,1602,'#8bd3bc',{st:'#c8c8c8',sw:2});
T(3213,1590,'전체',{s:32,b:700,a:'middle',c:'#000'});T(3218,1687,'64.5%',{s:40,b:700,a:'middle',c:'#404040',w:107});

// ---------- Staff ----------
tri(1510,1866,1533,1894,'#000','r');
T(1548,1889,'현직 보육교직원 현황',{s:30,b:700,c:'#000',w:287});
B(1871,1933,'【직종별 보육교직원 현황】',{s:27,b:700,c:'#000',w:329});
const colCx=[1738,1941,2139,2334];
R(1626,1959,2426,2045,'#c6d9d0');R(1626,2116.5,2426,2197,'#c6d9d0');
L(1626,1956,2426,1956,'#404040',3);L(1626,2257,2426,2257,'#404040',3);
L(1626,1956,1626,2257,'#595959',2);L(2426,1956,2426,2257,'#595959',2);
[1840,2237].forEach(x=>L(x,1956,x,2259,'#8c8c8c',1.5));
staffNames1.forEach((n,i)=>{const p=n.split('\n');
  if(p.length>1){T(colCx[i],1993,p[0],{s:28,a:'middle',w:58});T(colCx[i],2025,p[1],{s:28,a:'middle',w:170});}
  else T(colCx[i],2011,n,{s:28,a:'middle',w:n.length*28});
  T(colCx[i],2086,fmt(staffValues1[i]),{s:28,b:700,a:'middle',c:'#111',w:fmt(staffValues1[i]).length*14.6});
  T(colCx[i],2162,staffNames2[i],{s:28,a:'middle',w:staffNames2[i].length*28});
  T(colCx[i],2241,fmt(staffValues2[i]),{s:28,b:700,a:'middle',c:'#111',w:fmt(staffValues2[i]).length*14.6});});
T(2334,2295,'(단위: 명)',{s:23,c:'#a6a6a6',w:101});
B(2796,1938,'【급수별 보육교사 현황】',{s:27,b:700,c:'#000',w:299});
const gradeArcs=d3.pie().sort(null)(gradeValues);
const arcG=d3.arc().innerRadius(0).outerRadius(143);
const gradeCol=['#d7efe8','#b3e0d2','#2f8a6e'];
const gradeOff=[[0,0],[-10.5,-10],[-10,-10]];
gradeArcs.forEach((a,i)=>svg.append('path').attr('d',arcG(a)).attr('transform',`translate(${2949+gradeOff[i][0]},${2134+gradeOff[i][1]})`).attr('fill',gradeCol[i]));
L(2968,1996,3146,1978,'#a6a6a6',2);
const gCx=[3021,2880,3212], gY=[2118,2031,1991];
gradeNames.forEach((n,i)=>{T(gCx[i],gY[i],n,{s:27,a:'middle',c:'#333',w:44});
  T(gCx[i],gY[i]+(i===0?41:i===1?36:40),fmt(gradeValues[i]),{s:27,b:700,a:'middle',c:'#222',w:fmt(gradeValues[i]).length*(i===2?11:13.5)});
  T(gCx[i],gY[i]+(i===0?80:i===1?74:79),'('+gradeShare[i].toFixed(1)+'%)',{s:21,a:'middle',c:'#404040',w:('('+gradeShare[i].toFixed(1)+'%)').length*11.5});});
T(3242,2297,'(단위: 명)',{s:23,c:'#a6a6a6',w:92});
T(2477,2372,'* 출처: 주민등록 인구통계(행정안전부), 보육정책DW시스템(교육부·한국사회보장정보원)',{s:24,c:'#262626',w:916});
T(2470,2412,'※ 영유아 연령 기준: 만0-6세 인구(생활연령), 어린이집 이용아동수(보육연령)',{s:24,c:'#262626',w:791});
</script></body></html>
